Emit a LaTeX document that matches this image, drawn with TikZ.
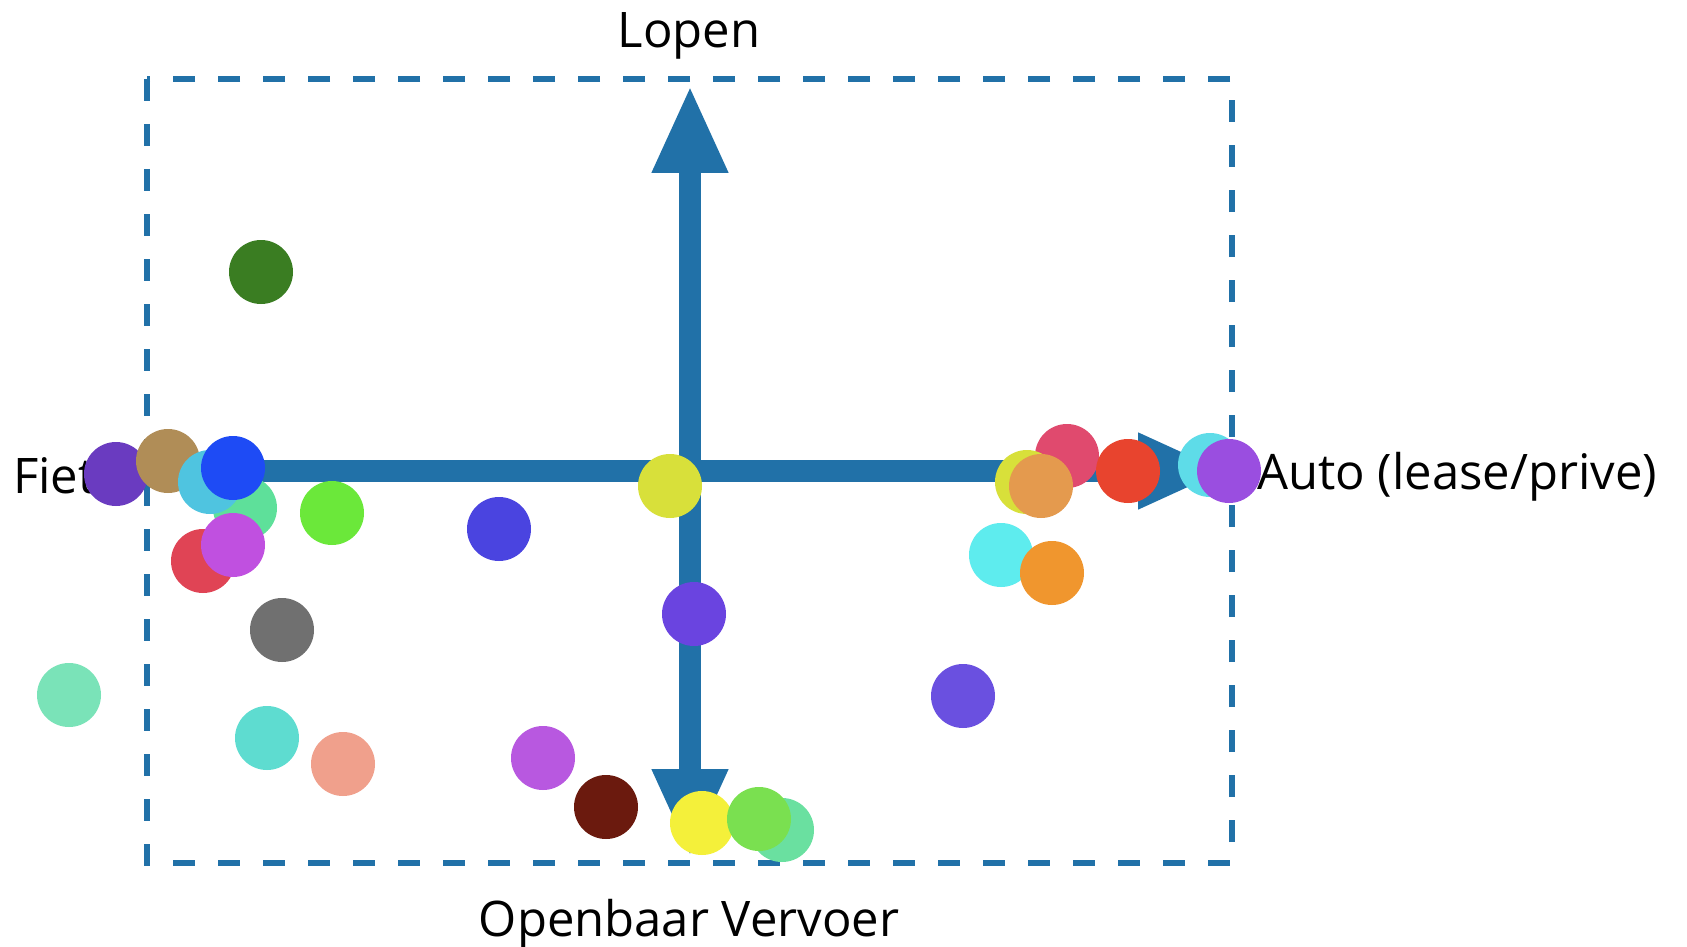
\documentclass[tikz,border=0pt]{standalone}
\usepackage{fontspec}
\setmainfont{Open Sans}
\usetikzlibrary{arrows.meta}
\definecolor{axisblue}{HTML}{2171A8}
\definecolor{d1}{HTML}{3A7D22}
\definecolor{d2}{HTML}{6A3BC0}
\definecolor{d3}{HTML}{B08D57}
\definecolor{d4}{HTML}{4FC4E0}
\definecolor{d5}{HTML}{1E4BF5}
\definecolor{d6}{HTML}{5EE09A}
\definecolor{d7}{HTML}{6BE83A}
\definecolor{d8}{HTML}{E04455}
\definecolor{d9}{HTML}{C050E0}
\definecolor{d10}{HTML}{707070}
\definecolor{d11}{HTML}{7AE3B8}
\definecolor{d12}{HTML}{5EDCD0}
\definecolor{d13}{HTML}{F0A08C}
\definecolor{d14}{HTML}{4A44E0}
\definecolor{d15}{HTML}{D8E03A}
\definecolor{d16}{HTML}{6A44E0}
\definecolor{d17}{HTML}{B858E0}
\definecolor{d18}{HTML}{6B1A0E}
\definecolor{d19}{HTML}{F4F03A}
\definecolor{d20}{HTML}{6AE0A0}
\definecolor{d21}{HTML}{7AE050}
\definecolor{d22}{HTML}{6A50E0}
\definecolor{d23}{HTML}{5EECEE}
\definecolor{d24}{HTML}{F0962E}
\definecolor{d25}{HTML}{D8E03A}
\definecolor{d26}{HTML}{E04A6E}
\definecolor{d27}{HTML}{E49A4E}
\definecolor{d28}{HTML}{E8442E}
\definecolor{d29}{HTML}{5EDCE8}
\definecolor{d30}{HTML}{9A4EE0}
\begin{document}
\begin{tikzpicture}[x=1pt,y=-1pt,
  dot/.style={circle,inner sep=0pt,minimum size=64pt,fill=#1,draw=none},
  axisline/.style={line width=22pt,draw=axisblue},
  tip/.style={},
  lbl/.style={font=\fontsize{49}{58}\selectfont,inner sep=0pt,text=black},
  frame/.style={draw=axisblue,line width=6pt,dash pattern=on 22pt off 23pt}]
\useasboundingbox (0,0) rectangle (1687,947);
\fill[white] (0,0) rectangle (1687,947);
% frame
\draw[frame] (147,79) rectangle (1232,863);
% labels
\node[lbl] (lopen) at (689,36) {Lopen};
\node[lbl,anchor=west] (fiets) at (13,476) {Fiets};
\node[lbl,anchor=west] (auto) at (1257,477) {Auto (lease/prive)};
\node[lbl] (ov) at (689,924) {Openbaar Vervoer};
% axes
\coordinate (top) at (690,85);
\coordinate (bot) at (690,857);
\coordinate (left) at (140,471);
\coordinate (right) at (1226,471);
\draw[axisline,{Triangle[length=88pt,width=70pt]}-{Triangle[length=88pt,width=70pt]}] (top) -- (bot);
\draw[axisline,-{Triangle[length=88pt,width=70pt]}] (left) -- (right);
% dots
\node[dot=d1] (c1) at (261,272) {};
\node[dot=d2] (c2) at (116,474) {};
\node[dot=d3] (c3) at (168,461) {};
\node[dot=d6] (c6) at (245,508) {};
\node[dot=d4] (c4) at (210,482) {};
\node[dot=d5] (c5) at (233,468) {};
\node[dot=d7] (c7) at (332,513) {};
\node[dot=d8] (c8) at (203,561) {};
\node[dot=d9] (c9) at (233,545) {};
\node[dot=d10] (c10) at (282,630) {};
\node[dot=d11] (c11) at (69,695) {};
\node[dot=d12] (c12) at (267,738) {};
\node[dot=d13] (c13) at (343,764) {};
\node[dot=d14] (c14) at (499,529) {};
\node[dot=d15] (c15) at (670,486) {};
\node[dot=d16] (c16) at (694,614) {};
\node[dot=d17] (c17) at (543,758) {};
\node[dot=d18] (c18) at (606,807) {};
\node[dot=d20] (c20) at (782,830) {};
\node[dot=d19] (c19) at (702,823) {};
\node[dot=d21] (c21) at (759,819) {};
\node[dot=d22] (c22) at (963,696) {};
\node[dot=d23] (c23) at (1001,555) {};
\node[dot=d24] (c24) at (1052,573) {};
\node[dot=d26] (c26) at (1067,456) {};
\node[dot=d25] (c25) at (1027,482) {};
\node[dot=d27] (c27) at (1041,486) {};
\node[dot=d28] (c28) at (1128,471) {};
\node[dot=d29] (c29) at (1210,465) {};
\node[dot=d30] (c30) at (1229,471) {};
\end{tikzpicture}
\end{document}
